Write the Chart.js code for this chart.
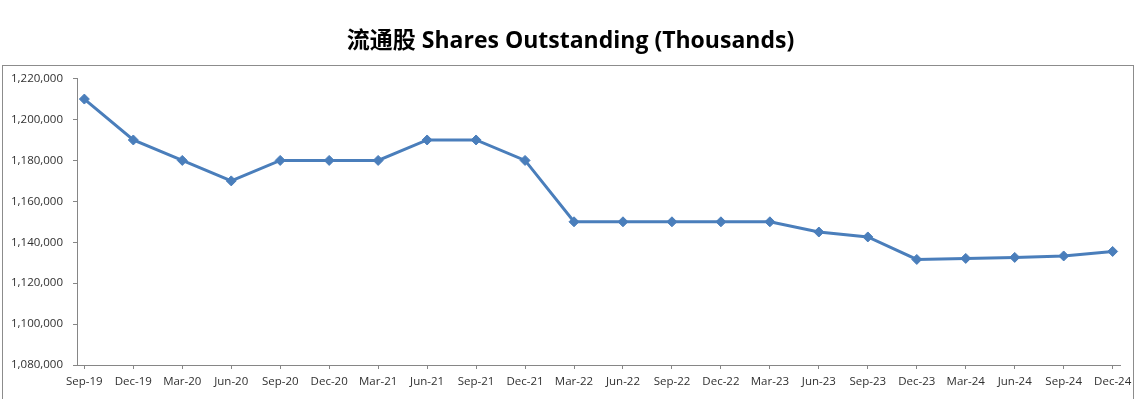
<!DOCTYPE html>
<html>
<head>
<meta charset="utf-8">
<script src="https://cdn.jsdelivr.net/npm/chart.js@4"></script>
<style>
  html, body { margin: 0; padding: 0; background: #fff; }
  #wrap { position: relative; width: 1141px; height: 399px; overflow: hidden; }
  #frame { position: absolute; left: 2px; top: 65px; width: 1130px; height: 400px; border: 1px solid #8c8c8c; }
  #graph1 { position: absolute; left: 0; top: 0; }
</style>
</head>
<body>
<div id="wrap">
  <div id="frame"></div>
  <canvas id="graph1" width="1141" height="399"></canvas>
</div>
<script>
// quarter labels
const quarters = ['Sep-19', 'Dec-19', 'Mar-20', 'Jun-20', 'Sep-20', 'Dec-20', 'Mar-21', 'Jun-21', 'Sep-21', 'Dec-21', 'Mar-22',
  'Jun-22', 'Sep-22', 'Dec-22', 'Mar-23', 'Jun-23', 'Sep-23', 'Dec-23', 'Mar-24', 'Jun-24', 'Sep-24', 'Dec-24'];

// shares outstanding, thousands
const shares = [1210000, 1190000, 1180000, 1170000, 1180000, 1180000, 1180000, 1190000, 1190000, 1180000, 1150000,
  1150000, 1150000, 1150000, 1150000, 1145000, 1142600, 1131600, 1132100, 1132600, 1133300, 1135500];

const yTicks = [1080000, 1100000, 1120000, 1140000, 1160000, 1180000, 1200000, 1220000];

const lineColor = '#4a7ebb';
const axisColor = '#868686';

const ctx = document.getElementById('graph1').getContext('2d');

const data = {
  datasets: [{
    label: 'Shares Outstanding',
    data: shares.map((v, i) => ({ x: i, y: v })),
    borderColor: lineColor,
    backgroundColor: lineColor,
    borderWidth: 3,
    pointStyle: 'rectRot',
    pointRadius: 5,
    pointBorderWidth: 1,
    tension: 0
  }]
};

const options = {
  responsive: false,
  animation: false,
  layout: { padding: 0 },
  plugins: {
    legend: { display: false },
    tooltip: { enabled: false },
    title: {
      display: true,
      text: '流通股 Shares Outstanding (Thousands)',
      color: '#000',
      font: { family: "'Open Sans', 'Noto Sans CJK SC'", size: 23, weight: 'bold' },
      padding: { top: 28, bottom: 23 }
    }
  },
  scales: {
    x: {
      type: 'linear',
      min: -0.15,
      max: quarters.length - 1 + 0.15,
      afterBuildTicks: (scale) => { scale.ticks = quarters.map((q, i) => ({ value: i })); },
      afterFit: (scale) => { scale.height = 34; },
      grid: { display: true, drawOnChartArea: false, drawTicks: true, tickLength: 4, color: axisColor },
      border: { color: axisColor, width: 1 },
      ticks: {
        autoSkip: false,
        maxRotation: 0,
        padding: 6,
        color: '#303030',
        font: { family: "'Open Sans'", size: 11.5 },
        callback: (v) => quarters[v]
      }
    },
    y: {
      min: 1080000,
      max: 1220000,
      afterBuildTicks: (scale) => { scale.ticks = yTicks.map(v => ({ value: v })); },
      afterFit: (scale) => { scale.width = 77; },
      grid: { display: true, drawOnChartArea: false, drawTicks: true, tickLength: 4, color: axisColor },
      border: { color: axisColor, width: 1 },
      ticks: {
        padding: 10,
        color: '#303030',
        font: { family: "'Open Sans'", size: 11.5 },
        callback: (v) => v.toLocaleString('en-US')
      }
    },
    // empty right-hand spacer so the plot ends where the reference does
    spacer: {
      position: 'right',
      min: 1080000,
      max: 1220000,
      grid: { display: false },
      border: { display: false },
      ticks: { display: false },
      afterFit: (scale) => { scale.width = 21; }
    }
  }
};

new Chart(ctx, { type: 'line', data: data, options: options });
</script>
</body>
</html>
